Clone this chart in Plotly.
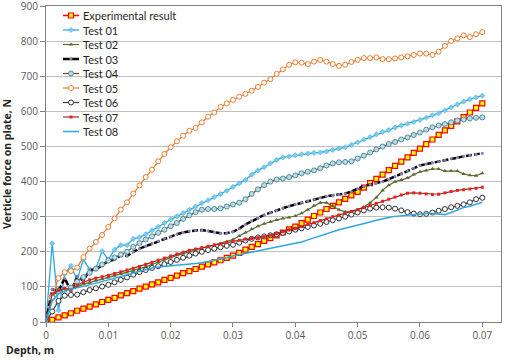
import plotly.graph_objects as go

depth = [round(i * 0.001, 3) for i in range(71)]

experimental = [0, 6, 13, 19, 25, 32, 38, 44, 50, 57, 63, 69, 76, 82, 88, 95, 101, 107, 113, 120,
                126, 132, 139, 145, 151, 158, 164, 170, 176, 183, 189, 197, 206, 214, 222, 231, 239,
                247, 255, 264, 272, 282, 292, 302, 312, 322, 331, 341, 351, 361, 371, 383, 396, 408,
                420, 433, 445, 457, 469, 482, 494, 507, 520, 533, 546, 559, 572, 584, 597, 610, 623]

test01 = [0, 224, 33, 137, 160, 120, 178, 150, 152, 202, 178, 206, 219, 219, 237, 241, 250, 261, 271,
          282, 292, 301, 310, 320, 329, 339, 347, 356, 365, 374, 385, 395, 405, 420, 432, 441, 452,
          462, 469, 472, 475, 478, 480, 482, 483, 486, 490, 494, 498, 505, 512, 520, 527, 535, 542,
          547, 554, 560, 565, 570, 576, 582, 589, 595, 603, 612, 620, 628, 635, 640, 645]

test02 = [0, 70, 95, 90, 95, 100, 108, 112, 118, 122, 127, 132, 137, 141, 146, 150, 157, 164, 171,
          178, 184, 190, 195, 200, 204, 208, 213, 218, 223, 229, 235, 245, 255, 265, 273, 280, 286,
          291, 295, 298, 302, 310, 320, 332, 340, 340, 331, 320, 314, 314, 320, 328, 340, 355, 375,
          390, 400, 405, 410, 420, 428, 432, 436, 436, 430, 430, 430, 422, 418, 417, 424]

test03 = [0, 93, 88, 125, 87, 129, 118, 148, 150, 162, 174, 178, 190, 188, 200, 209, 216, 224, 231,
          238, 244, 250, 255, 259, 261, 262, 260, 256, 253, 253, 257, 266, 278, 288, 296, 305, 312,
          318, 324, 330, 335, 340, 345, 350, 354, 358, 361, 363, 366, 372, 380, 387, 392, 396, 400,
          407, 414, 422, 430, 438, 446, 450, 454, 457, 461, 465, 469, 472, 475, 478, 481]

test04 = [0, 75, 88, 92, 98, 115, 128, 140, 152, 164, 175, 184, 192, 200, 214, 225, 235, 244, 254,
          263, 273, 282, 294, 304, 313, 320, 322, 322, 324, 329, 335, 340, 350, 365, 378, 390, 400,
          406, 409, 413, 418, 424, 428, 432, 438, 446, 452, 455, 456, 458, 466, 474, 483, 492, 500,
          507, 513, 520, 526, 533, 540, 548, 555, 560, 564, 569, 574, 577, 580, 582, 583]

test05 = [0, 70, 125, 142, 145, 155, 185, 209, 228, 248, 271, 295, 320, 341, 366, 389, 413, 434, 458,
          479, 498, 515, 531, 545, 553, 569, 585, 597, 613, 623, 633, 642, 650, 659, 670, 682, 692,
          707, 720, 733, 740, 739, 735, 742, 747, 742, 735, 730, 733, 741, 747, 752, 752, 754, 749,
          749, 751, 754, 757, 761, 765, 765, 761, 770, 787, 801, 808, 817, 812, 820, 826]

test06 = [0, 30, 60, 75, 77, 78, 85, 91, 96, 101, 106, 113, 120, 127, 135, 142, 148, 154, 159, 165,
          171, 177, 183, 189, 195, 200, 205, 209, 213, 217, 220, 226, 232, 237, 241, 244, 247, 250,
          254, 258, 263, 267, 271, 275, 280, 285, 290, 295, 300, 306, 312, 318, 323, 326, 327, 326,
          323, 318, 313, 309, 307, 308, 312, 317, 322, 327, 331, 335, 341, 350, 354]

test07 = [0, 80, 90, 95, 92, 105, 114, 120, 125, 129, 133, 138, 143, 148, 153, 158, 164, 170, 176,
          182, 188, 194, 199, 204, 208, 212, 216, 220, 223, 227, 230, 233, 236, 238, 240, 243, 247,
          252, 257, 262, 266, 272, 278, 283, 289, 294, 300, 305, 310, 315, 320, 326, 332, 338, 344,
          350, 356, 362, 367, 368, 367, 365, 363, 364, 368, 372, 375, 377, 379, 381, 384]

test08 = [0, 60, 80, 88, 93, 97, 101, 105, 110, 115, 120, 125, 130, 135, 140, 145, 150, 154, 157,
          159, 160, 161, 163, 165, 167, 169, 172, 175, 179, 183, 188, 192, 196, 200, 204, 207, 210,
          214, 217, 220, 223, 228, 234, 240, 247, 253, 258, 263, 267, 271, 275, 280, 285, 290, 295,
          298, 301, 303, 305, 306, 308, 309, 309, 308, 306, 312, 320, 326, 330, 335, 341]

x_ticks = [0, 0.01, 0.02, 0.03, 0.04, 0.05, 0.06, 0.07]
x_tick_labels = ["0", "0.01", "0.02", "0.03", "0.04", "0.05", "0.06", "0.07"]
y_ticks = [0, 100, 200, 300, 400, 500, 600, 700, 800, 900]

series = [
    ("Experimental result", experimental, dict(color="#FF0000", width=1.5),
     dict(symbol="square", size=5, color="#FFFF00", line=dict(color="#FF0000", width=1.2))),
    ("Test 01", test01, dict(color="#2AA8E0", width=1.3),
     dict(symbol="diamond", size=4, color="#7FCBEB", line=dict(color="#2AA8E0", width=0.5))),
    ("Test 02", test02, dict(color="#5A6B30", width=1.2),
     dict(symbol="triangle-up", size=4, color="#5A6B30")),
    ("Test 03", test03, dict(color="#000000", width=2.5, dash="6px,2px"),
     dict(symbol="circle", size=3, color="#8A7FB5")),
    ("Test 04", test04, dict(color="#8B3A2A", width=1.2),
     dict(symbol="circle", size=5, color="#B9DDE6", line=dict(color="#4F8EA0", width=1))),
    ("Test 05", test05, dict(color="#ED7D31", width=1.2),
     dict(symbol="circle", size=5, color="#FFFFFF", line=dict(color="#ED7D31", width=1))),
    ("Test 06", test06, dict(color="#404040", width=1.2),
     dict(symbol="circle", size=5, color="#FFFFFF", line=dict(color="#303030", width=1))),
    ("Test 07", test07, dict(color="#7A3B2E", width=1.2),
     dict(symbol="square", size=3, color="#FF1A1A")),
    ("Test 08", test08, dict(color="#2AA8E0", width=1.5), None),
]

fig = go.Figure()
for name, vals, line, marker in series:
    if marker is None:
        fig.add_trace(go.Scatter(x=depth, y=vals, name=name, mode="lines", line=line,
                                 showlegend=False))
    else:
        fig.add_trace(go.Scatter(x=depth, y=vals, name=name, mode="lines+markers",
                                 line=line, marker=marker, showlegend=False))

# Legend drawn on an overlay axis measured in pixels of the plot area
PLOT_L, PLOT_R, PLOT_T, PLOT_B = 46, 501, 6, 322
LEG_X0, LEG_X1, LEG_TEXT_X = 63, 79, 81
LEG_Y0, LEG_DY = 15.5, 14.5

annotations = []
for k, (name, vals, line, marker) in enumerate(series):
    yk = LEG_Y0 + k * LEG_DY
    lline = dict(line)
    lline.pop("dash", None)
    fig.add_trace(go.Scatter(x=[LEG_X0, LEG_X1], y=[yk, yk], mode="lines", line=lline,
                             xaxis="x2", yaxis="y2", showlegend=False, hoverinfo="skip"))
    if marker is not None:
        fig.add_trace(go.Scatter(x=[(LEG_X0 + LEG_X1) / 2], y=[yk], mode="markers",
                                 marker=marker, xaxis="x2", yaxis="y2", showlegend=False,
                                 hoverinfo="skip"))
    annotations.append(dict(text=name, xref="x2", yref="y2", x=LEG_TEXT_X, y=yk,
                            xanchor="left", yanchor="middle", showarrow=False,
                            font=dict(size=11, color="#262626", family="Lato, Open Sans, sans-serif")))

font_family = "Open Sans, DejaVu Sans, sans-serif"

annotations.append(dict(text="<b>Depth, m</b>", xref="paper", yref="paper", x=-0.092, y=-0.09,
                        xanchor="left", yanchor="middle", showarrow=False,
                        font=dict(size=10.5, color="#262626")))

fig.update_layout(
    width=505, height=360,
    margin=dict(l=PLOT_L, r=505 - PLOT_R, t=PLOT_T, b=360 - PLOT_B, autoexpand=False),
    paper_bgcolor="white", plot_bgcolor="white",
    font=dict(family=font_family, size=10, color="#404040"),
    showlegend=False,
    xaxis=dict(range=[0, 0.073], tickvals=x_ticks, ticktext=x_tick_labels,
               showgrid=False, zeroline=False, showline=True, linecolor="#808080",
               linewidth=1, mirror=True, ticks="outside", ticklen=4, tickcolor="#808080",
               tickfont=dict(size=10, color="#595959")),
    yaxis=dict(range=[0, 900.5], tickvals=y_ticks, showgrid=True, gridcolor="#BFBFBF",
               gridwidth=1, zeroline=False, showline=True, linecolor="#808080", linewidth=1,
               mirror=True, ticks="outside", ticklen=5, tickcolor="#808080",
               tickfont=dict(size=10, color="#595959"), ticklabeloverflow="allow",
               title=dict(text="<b>Verticle force on plate, N</b>", standoff=8,
                          font=dict(size=10.5, color="#262626"))),
    xaxis2=dict(overlaying="x", range=[PLOT_L, PLOT_R], visible=False, fixedrange=True),
    yaxis2=dict(overlaying="y", range=[PLOT_B, PLOT_T], visible=False, fixedrange=True),
    annotations=annotations,
)

fig.write_html("out.html", post_script="document.body.style.margin='0px';",
               config={"displayModeBar": False})
